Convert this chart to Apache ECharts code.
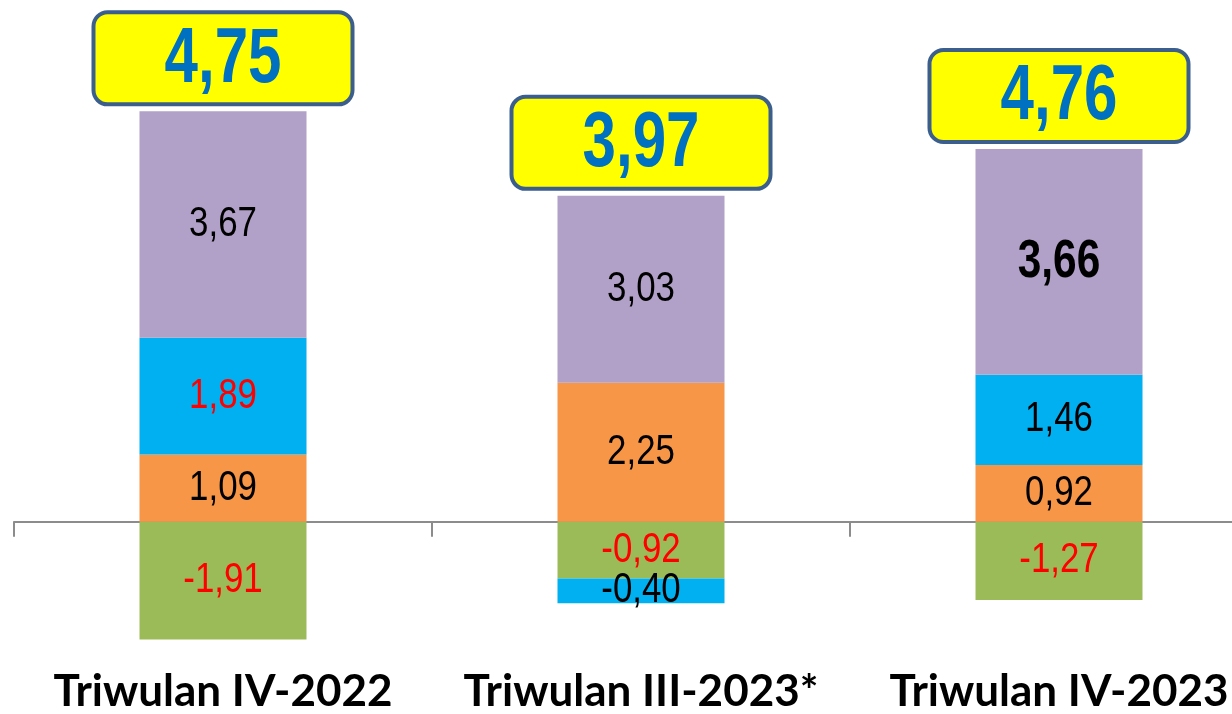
<!DOCTYPE html>
<html>
<head>
    <meta charset="utf-8">
    <title>ECharts</title>
    <script src="https://cdn.jsdelivr.net/npm/echarts@6/dist/echarts.min.js"></script>
    <style>
        html, body { margin: 0; padding: 0; background: #fff; }
    </style>
</head>
<body>

<div id="main" style="width: 1232px;height:714px;"></div>
<script type="text/javascript">
    // data
    var categories = ['Triwulan IV-2022', 'Triwulan III-2023*', 'Triwulan IV-2023'];
    var greenVals  = [-1.91, -0.92, -1.27];
    var orangeVals = [1.09, 2.25, 0.92];
    var blueVals   = [1.89, -0.40, 1.46];
    var purpleVals = [3.67, 3.03, 3.66];
    var totals     = [4.75, 3.97, 4.76];

    // which labels are red / bold in the original
    var greenRed   = [true, true, true];
    var orangeRed  = [false, false, false];
    var blueRed    = [true, false, false];
    var purpleRed  = [false, false, false];
    var purpleBold = [false, false, true];

    var numFont = "'Liberation Sans', Arial, sans-serif";

    function fmt(v) {
        return v.toFixed(2).replace('.', ',');
    }

    // stack order = series order (green first, purple last)
    var stackList = [
        { vals: greenVals,  red: greenRed,  bold: null },
        { vals: orangeVals, red: orangeRed, bold: null },
        { vals: blueVals,   red: blueRed,   bold: null },
        { vals: purpleVals, red: purpleRed, bold: purpleBold }
    ];

    // label at the middle of every segment, and top of the positive stack
    var segLabels = [];
    var stackTop = [];
    for (var i = 0; i < categories.length; i++) {
        var pos = 0, neg = 0;
        stackList.forEach(function (s) {
            var v = s.vals[i], mid;
            if (v >= 0) { mid = pos + v / 2; pos += v; }
            else { mid = neg + v / 2; neg += v; }
            segLabels.push({
                value: [i, mid],
                text: fmt(v),
                color: s.red[i] ? '#FF0000' : '#000000',
                bold: s.bold ? s.bold[i] : false
            });
        });
        stackTop.push([i, pos]);
    }

    var myChart = echarts.init(document.getElementById('main'));

    function barSeries(name, color, data) {
        return {
            name: name,
            type: 'bar',
            stack: 'total',
            barWidth: 167,
            itemStyle: { color: color },
            data: data
        };
    }

    var option = {
        animation: false,
        grid: { left: 14, width: 1254, top: 28, bottom: 38, outerBoundsMode: 'none' },
        xAxis: [
            {
                type: 'category',
                data: categories,
                axisLine: { onZero: true, lineStyle: { color: '#8C8C8C', width: 2 } },
                axisTick: { show: true, length: 15, lineStyle: { color: '#8C8C8C', width: 2 } },
                axisLabel: { show: false }
            },
            {
                type: 'category',
                data: categories,
                position: 'bottom',
                axisLine: { show: false, onZero: false },
                axisTick: { show: false },
                axisLabel: {
                    interval: 0,
                    hideOverlap: false,
                    margin: -6,
                    fontFamily: 'Lato',
                    fontWeight: 'bold',
                    fontSize: 44,
                    color: '#000'
                }
            }
        ],
        yAxis: {
            type: 'value',
            min: -2.5,
            max: 8,
            show: false,
            splitLine: { show: false }
        },
        series: [
            barSeries('green', '#9BBB59', greenVals),
            barSeries('orange', '#F79646', orangeVals),
            barSeries('blue', '#00B0F0', blueVals),
            barSeries('purple', '#B1A0C7', purpleVals),
            {
                // segment values, narrowed like the original
                name: 'labels',
                type: 'custom',
                z: 4,
                clip: false,
                data: segLabels.map(function (d) { return d.value; }),
                renderItem: function (params, api) {
                    var d = segLabels[params.dataIndex];
                    var p = api.coord([api.value(0), api.value(1)]);
                    return {
                        type: 'text',
                        x: p[0],
                        y: p[1],
                        scaleX: d.bold ? 0.8 : 0.83,
                        style: {
                            text: d.text,
                            x: 0,
                            y: 0,
                            fill: d.color,
                            fontFamily: numFont,
                            fontWeight: d.bold ? 'bold' : 'normal',
                            fontSize: d.bold ? 53 : 42,
                            align: 'center',
                            verticalAlign: 'middle'
                        }
                    };
                }
            },
            {
                // yellow total boxes above each stack
                name: 'total',
                type: 'custom',
                z: 5,
                clip: false,
                data: stackTop,
                renderItem: function (params, api) {
                    var p = api.coord([api.value(0), api.value(1)]);
                    var w = 259, h = 92, gap = 7;
                    return {
                        type: 'group',
                        x: p[0],
                        y: p[1] - gap,
                        children: [
                            {
                                type: 'rect',
                                shape: { x: -w / 2, y: -h, width: w, height: h, r: 14 },
                                style: { fill: '#FFFF00', stroke: '#3B5E8C', lineWidth: 4 }
                            },
                            {
                                type: 'text',
                                x: 0,
                                y: -h / 2 + 2,
                                scaleX: 0.78,
                                style: {
                                    text: fmt(totals[params.dataIndex]),
                                    x: 0,
                                    y: 0,
                                    fill: '#0070C0',
                                    fontFamily: numFont,
                                    fontWeight: 'bold',
                                    fontSize: 77,
                                    align: 'center',
                                    verticalAlign: 'middle'
                                }
                            }
                        ]
                    };
                }
            }
        ]
    };
    myChart.setOption(option);
</script>
</body>
</html>
